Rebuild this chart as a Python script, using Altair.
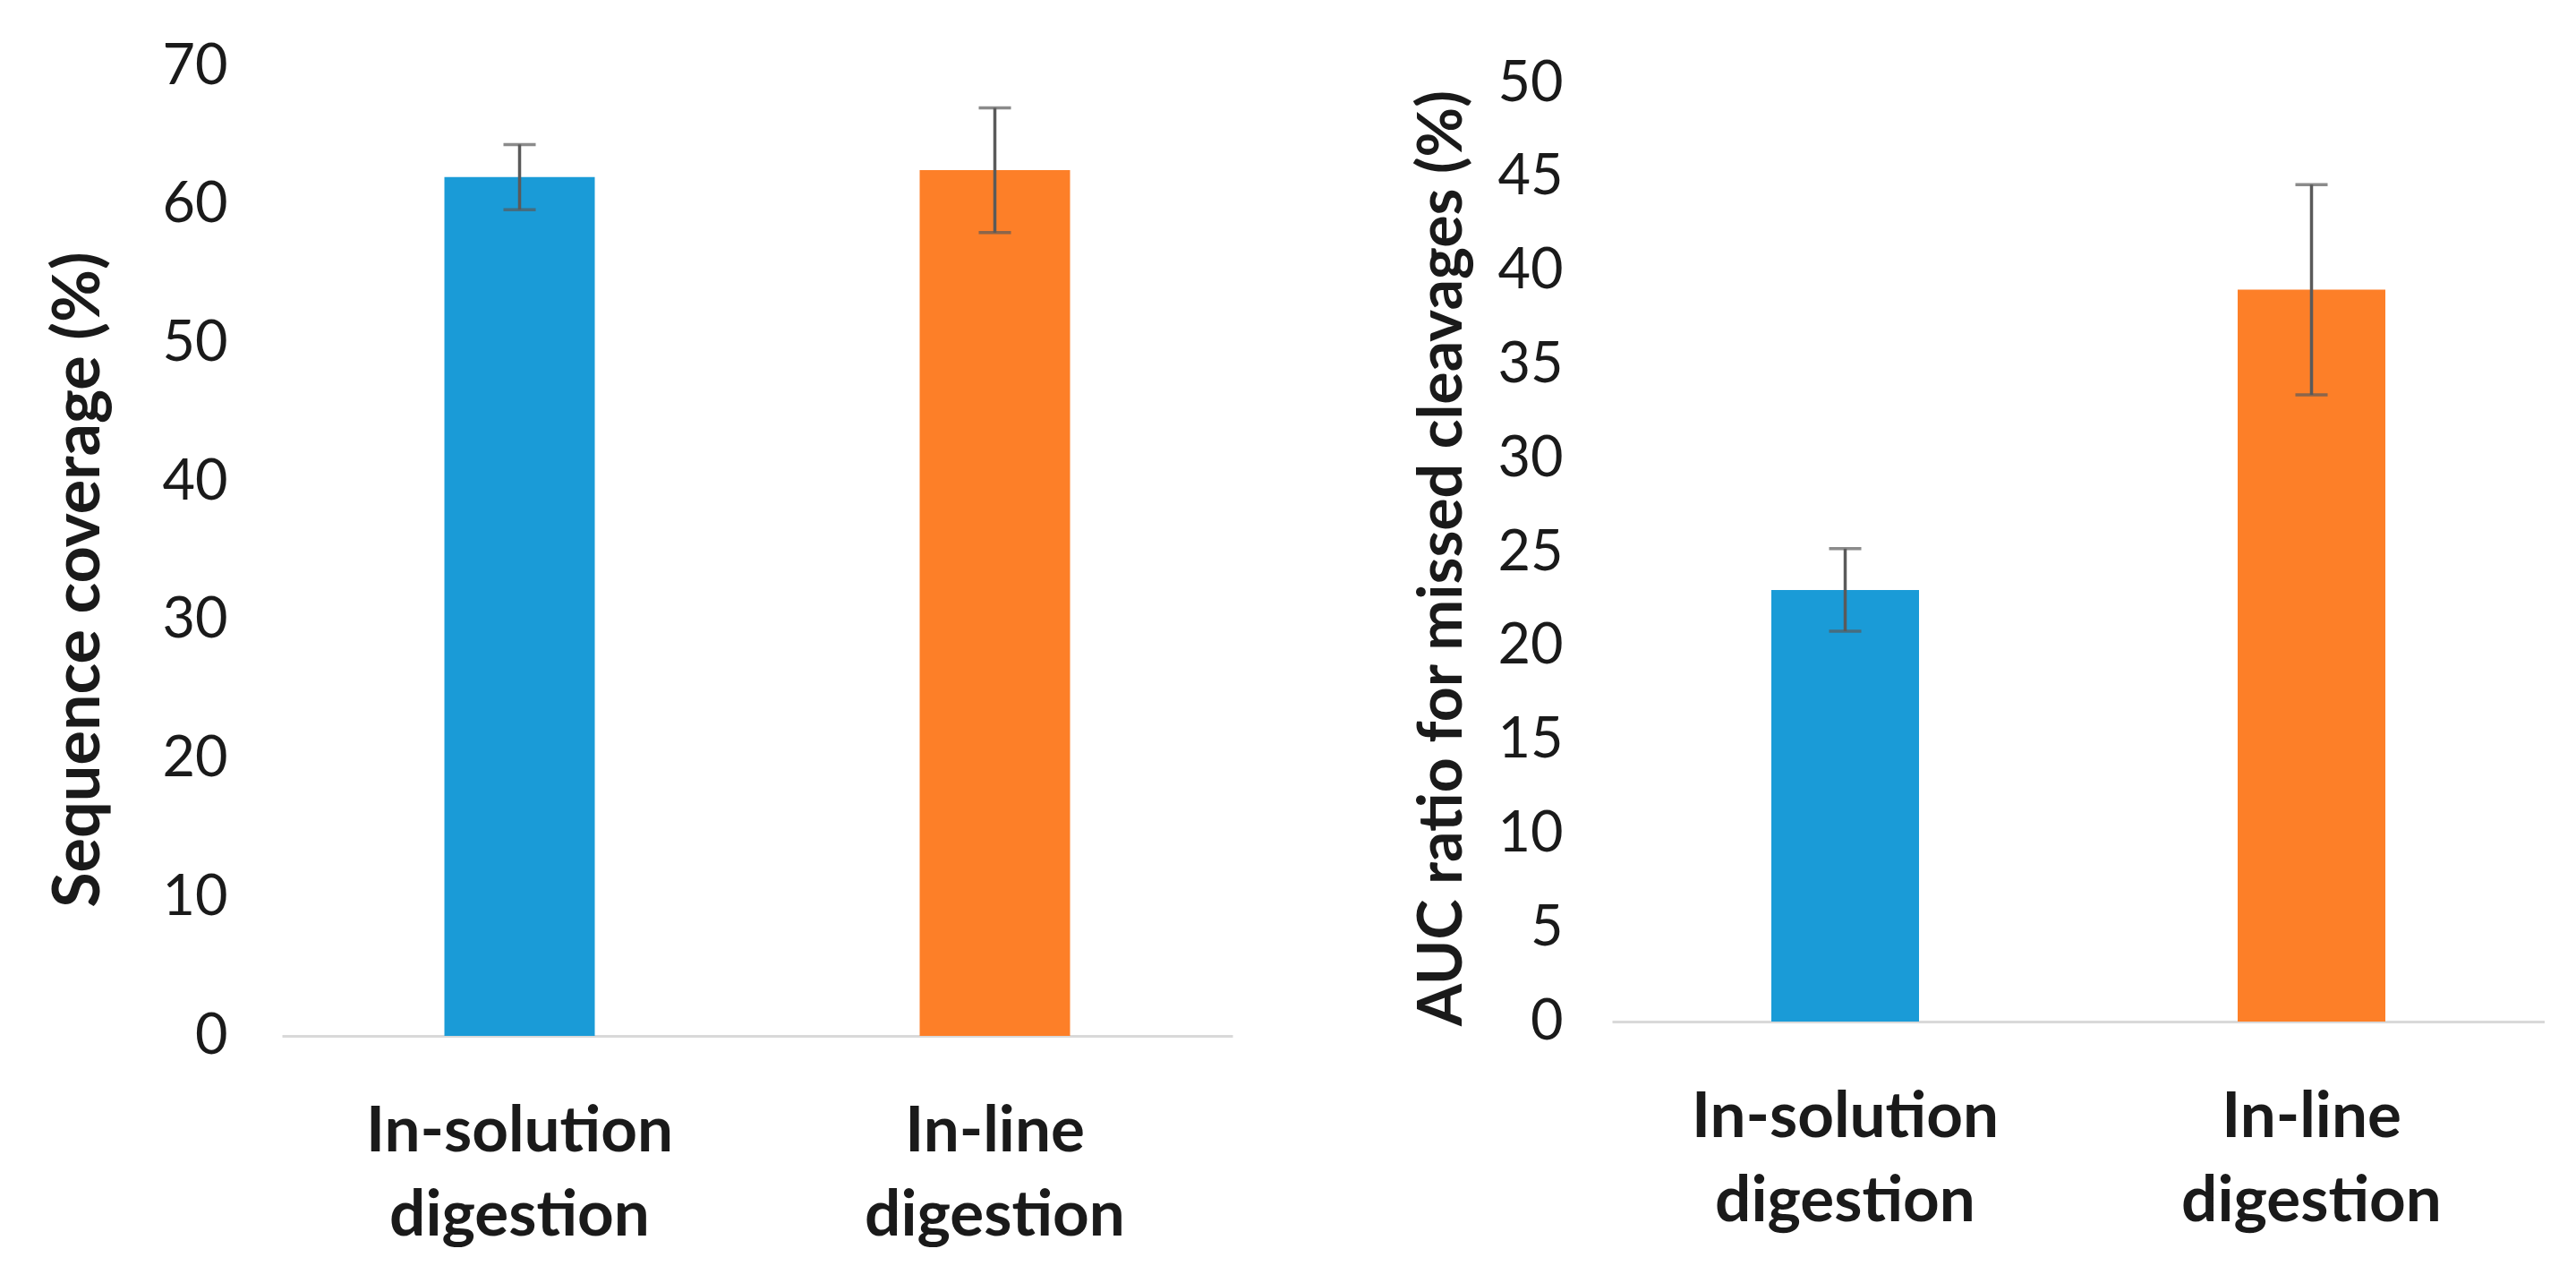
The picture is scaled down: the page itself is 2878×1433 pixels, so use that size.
import altair as alt
import pandas as pd

categories = ["In-solution digestion", "In-line digestion"]
coverage = [62.0, 62.5]
coverage_err = [2.35, 4.5]
auc = [23.0, 39.0]
auc_err = [2.2, 5.6]
colors = ["#1a9bd7", "#fd7f28"]

FONT = "Lato"
TXT = "#1a1a1a"


def make_df(vals, errs):
    return pd.DataFrame({
        "cat": categories,
        "val": vals,
        "lo": [v - e for v, e in zip(vals, errs)],
        "hi": [v + e for v, e in zip(vals, errs)],
    })


def panel(df, ytitle, ymax, ystep, w, h, barsize, lab_pad, title_size, title_pad, title_y):
    xenc = alt.X(
        "cat:N", sort=categories,
        scale=alt.Scale(paddingInner=0, paddingOuter=0),
        axis=alt.Axis(
            title=None, labelAngle=0, ticks=False, tickSize=0,
            labelExpr="split(datum.label, ' ')",
            domainColor="#d9d9d9", domainWidth=3,
            labelFont=FONT, labelFontWeight="bold", labelFontSize=71,
            labelLineHeight=94, labelPadding=72, labelColor=TXT,
            labelLimit=0,
        ),
    )
    yscale = alt.Scale(domain=[0, ymax], nice=False, zero=True)
    yenc = alt.Y(
        "val:Q", scale=yscale,
        axis=alt.Axis(
            title=ytitle, values=list(range(0, ymax + 1, ystep)),
            grid=False, domain=False, ticks=False, tickSize=0,
            labelFont=FONT, labelFontSize=63, labelColor=TXT,
            labelPadding=lab_pad,
            titleFont=FONT, titleFontWeight="bold", titleFontSize=title_size,
            titlePadding=title_pad, titleColor=TXT, titleY=title_y,
        ),
    )
    base = alt.Chart(df)
    bars = base.mark_bar(size=barsize).encode(
        x=xenc, y=yenc,
        color=alt.Color("cat:N", scale=alt.Scale(domain=categories, range=colors), legend=None),
    )
    rule = base.mark_rule(color="#5a5a5a", strokeWidth=3.5).encode(
        x=alt.X("cat:N", sort=categories),
        y=alt.Y("lo:Q", scale=yscale), y2="hi:Q",
    )
    tick_lo = base.mark_tick(color="#5a5a5a", size=36, thickness=3.5).encode(
        x=alt.X("cat:N", sort=categories), y=alt.Y("lo:Q", scale=yscale),
    )
    tick_hi = base.mark_tick(color="#5a5a5a", size=36, thickness=3.5).encode(
        x=alt.X("cat:N", sort=categories), y=alt.Y("hi:Q", scale=yscale),
    )
    return alt.layer(bars, rule, tick_lo, tick_hi).properties(width=w, height=h)


def spacer(h):
    # invisible layout spacer (no data shown)
    return alt.Chart(pd.DataFrame({"s": [0]})).mark_point(size=1, opacity=0).encode(
        x=alt.value(0), y=alt.value(0)
    ).properties(width=1, height=h)


left = panel(make_df(coverage, coverage_err), "Sequence coverage (%)", 70, 10,
             1062, 1083, 168, 61, 72, 55, 573)
right = panel(make_df(auc, auc_err), "AUC ratio for missed cleavages (%)", 50, 5,
              1042, 1048, 165, 55, 68, 26, 530)

left_col = alt.vconcat(spacer(5), left, spacing=0)
right_col = alt.vconcat(spacer(23.5), right, spacing=0)

chart = alt.hconcat(left_col, right_col, spacing=201).properties(
    padding={"left": 44, "top": 29, "right": 0, "bottom": 0},
    background="white",
).configure_view(stroke=None)

chart.save("out.html", embed_options={"renderer": "svg", "actions": False})
